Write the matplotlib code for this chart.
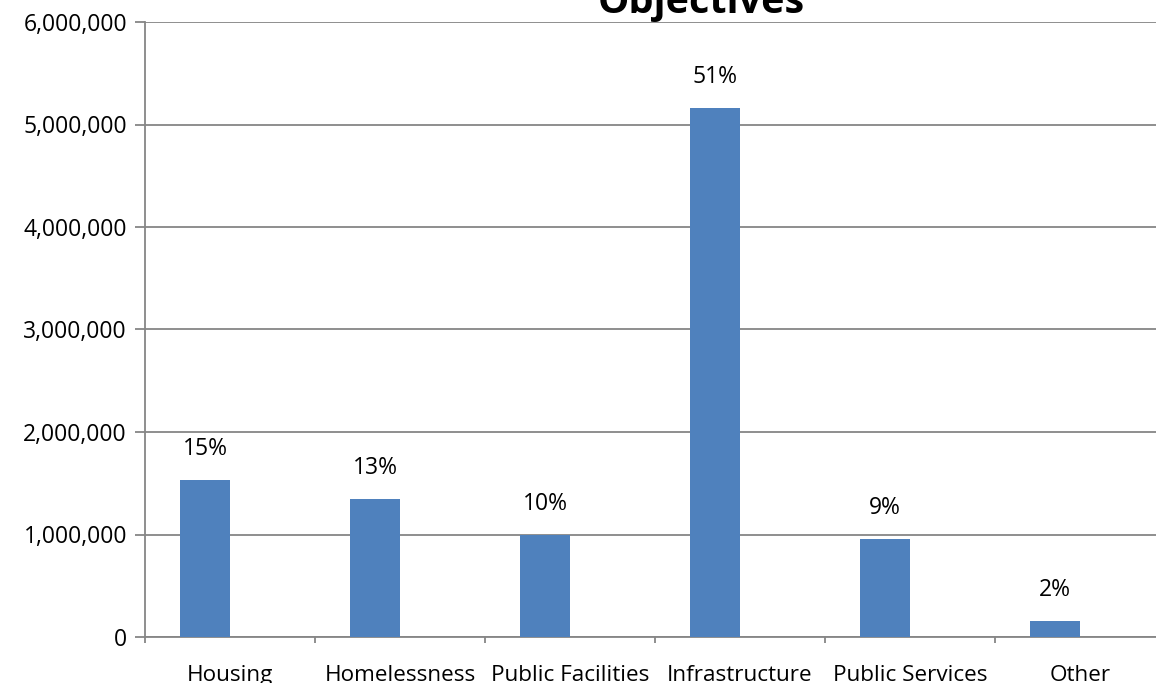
import numpy as np
import matplotlib.pyplot as plt
from matplotlib.ticker import FuncFormatter

# data
categories = ["Housing", "Homelessness", "Public Facilities",
              "Infrastructure", "Public Services", "Other"]
amounts = [1530000, 1345000, 995000, 5160000, 955000, 155000]
pct_labels = ["15%", "13%", "10%", "51%", "9%", "2%"]

BAR = "#4F81BD"
GRID = "#868686"
FONT = "Open Sans"

fig = plt.figure(figsize=(11.56, 6.83), dpi=100)
ax = fig.add_axes([145 / 1156, 46 / 683, 1020 / 1156, 615 / 683])

x = np.arange(len(categories))
offset = -0.147
bars = ax.bar(x + offset, amounts, width=0.29, color=BAR, zorder=3)

for b, lab in zip(bars, pct_labels):
    ax.annotate(lab, (b.get_x() + b.get_width() / 2, b.get_height()),
                xytext=(0, 14), textcoords="offset points", ha="center",
                va="bottom", fontsize=16.5, family=FONT, color="black")

ax.set_xlim(-0.5, len(categories) - 0.5)
ax.set_ylim(0, 6000000)
ax.set_yticks(np.arange(0, 6000001, 1000000))
ax.yaxis.set_major_formatter(FuncFormatter(lambda v, p: f"{int(v):,}"))
ax.grid(axis="y", color=GRID, linewidth=1.3, zorder=0)

# category ticks at boundaries, labels at centres
ax.set_xticks(np.arange(-0.5, len(categories) + 0.5, 1))
ax.set_xticklabels([])
ax.set_xticks(x, minor=True)
ax.set_xticklabels(categories, minor=True)
ax.tick_params(axis="x", which="minor", length=0, pad=20)
ax.tick_params(axis="x", which="major", length=4.5, color=GRID, width=1.3)
ax.tick_params(axis="y", length=7, color=GRID, width=1.3, pad=6)
for lab in ax.get_xticklabels(minor=True):
    lab.set_fontsize(16.2)
    lab.set_family(FONT)
for lab in ax.get_yticklabels():
    lab.set_fontsize(16.5)
    lab.set_family(FONT)

for side in ["top", "right"]:
    ax.spines[side].set_visible(False)
for side in ["left", "bottom"]:
    ax.spines[side].set_color(GRID)
    ax.spines[side].set_linewidth(1.3)

fig.text(701 / 1156, 1 - 13 / 683, "Objectives", ha="center", va="baseline",
         fontsize=28.5, fontweight="bold", family=FONT)

plt.savefig("out.png", dpi=100)
